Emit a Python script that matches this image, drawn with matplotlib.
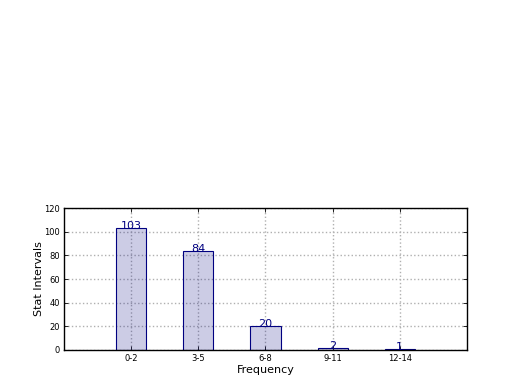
import matplotlib
matplotlib.use("Agg")
import matplotlib.pyplot as plt
import numpy as np

categories = ["0-2", "3-5", "6-8", "9-11", "12-14"]
values = [103, 84, 20, 2, 1]

fig = plt.figure(figsize=(5.2, 3.9), dpi=100)
ax = fig.add_axes([0.123, 0.1026, 0.775, 0.364])
x = np.arange(len(categories))
bars = ax.bar(x, values, width=0.45, color=(0, 0, 0.5, 0.2), edgecolor="navy", linewidth=0.8, zorder=2)
for xi, v in zip(x, values):
    ax.text(xi, v - 2.5, str(v), ha="center", va="bottom", color="navy", fontsize=8, zorder=3)
ax.set_xlim(-1, 5)
ax.set_ylim(0, 120)
ax.set_yticks(np.arange(0, 121, 20))
ax.set_xticks(x)
ax.set_xticklabels(categories)
ax.tick_params(axis="both", direction="in", labelsize=6, length=3, top=True, right=True, width=0.6, pad=3)
ax.grid(True, linestyle=":", color="#b0b0b0", linewidth=1.0, zorder=0)
ax.set_axisbelow(True)
ax.set_xlabel("Frequency", fontsize=8, labelpad=1)
ax.set_ylabel("Stat Intervals", fontsize=8, labelpad=0)
for s in ax.spines.values():
    s.set_linewidth(1.0)
fig.savefig("out.png", dpi=100)
